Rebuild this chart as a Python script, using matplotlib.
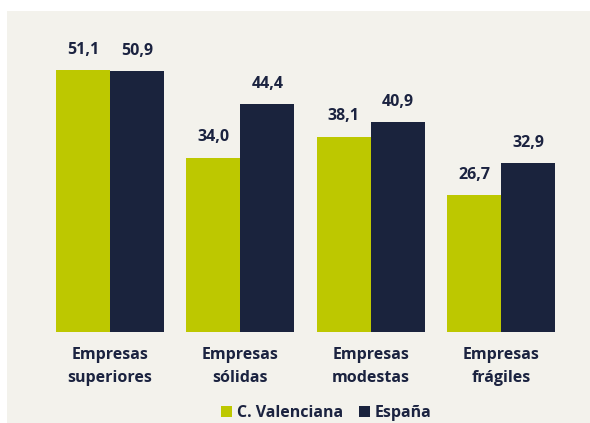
import numpy as np
import matplotlib.pyplot as plt
from matplotlib.patches import Rectangle

categorias = ['Empresas\nsuperiores', 'Empresas\nsólidas', 'Empresas\nmodestas', 'Empresas\nfrágiles']
valenciana = [51.1, 34.0, 38.1, 26.7]
espana = [50.9, 44.4, 40.9, 32.9]
series = ['C. Valenciana', 'España']

verde = '#bdc800'
azul = '#1a233d'
fondo = '#f3f2ec'
texto = '#1b2340'

plt.rcParams['font.family'] = ['Open Sans', 'DejaVu Sans']

fig = plt.figure(figsize=(5.9, 4.23), dpi=100)
fig.patch.set_facecolor('white')
fig.patches.append(Rectangle((7/590, 0), 1, (423-11)/423, transform=fig.transFigure,
                             facecolor=fondo, edgecolor='none', zorder=-10))

ax = fig.add_axes([44.8/590, 0.2151, 521.6/590, 0.7272])
ax.set_facecolor('none')

x = np.arange(len(categorias))
w = 0.414
b1 = ax.bar(x - w/2, valenciana, w, color=verde, label=series[0])
b2 = ax.bar(x + w/2, espana, w, color=azul, label=series[1])

for bars, vals in ((b1, valenciana), (b2, espana)):
	for r, v in zip(bars, vals):
		ax.annotate(f'{v:.1f}'.replace('.', ','), (r.get_x() + r.get_width()/2, v),
		            xytext=(0, 9), textcoords='offset points', ha='center', va='bottom',
		            fontsize=11.5, fontweight='bold', color=texto)

ax.set_xlim(-0.5, 3.5)
ax.set_ylim(0, 60)
ax.set_xticks(x)
ax.set_xticklabels(categorias, fontsize=11.5, fontweight='bold', color=texto, linespacing=1.6)
ax.tick_params(axis='x', length=0, pad=11)
ax.set_yticks([])
for s in ax.spines.values():
	s.set_visible(False)

leg = ax.legend(loc='upper center', bbox_to_anchor=(0.54, -0.19), ncol=2, frameon=False,
                handlelength=0.7, handleheight=0.7, handletextpad=0.3, columnspacing=1.0,
                prop={'size': 11.5, 'weight': 'bold'})
for t in leg.get_texts():
	t.set_color(texto)

fig.savefig('out.png', dpi=100, facecolor=fig.get_facecolor())
